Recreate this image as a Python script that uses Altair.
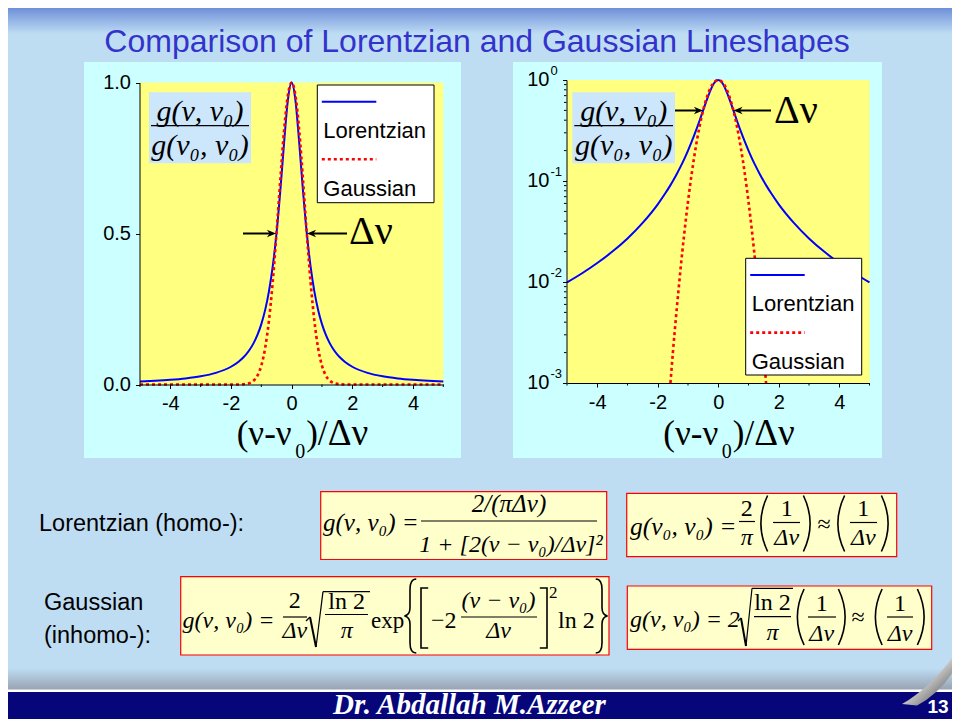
import altair as alt
import pandas as pd

# ---------------- data ----------------
x_vals = [-5, -4.5, -4, -3.5, -3, -2.5, -2, -1.75, -1.58, -1.5, -1.375, -1.25, -1.125, -1,
          -0.875, -0.75, -0.625, -0.5, -0.375, -0.25, -0.125, 0,
          0.125, 0.25, 0.375, 0.5, 0.625, 0.75, 0.875, 1, 1.125, 1.25, 1.375, 1.5, 1.58, 1.75,
          2, 2.5, 3, 3.5, 4, 4.5, 5]
lorentz_vals = [0.0099, 0.0122, 0.0154, 0.0200, 0.0270, 0.0385, 0.0588, 0.0755, 0.0910, 0.1000, 0.1168, 0.1379, 0.1649, 0.2000,
                0.2462, 0.3077, 0.3902, 0.5000, 0.6400, 0.8000, 0.9412, 1.0000,
                0.9412, 0.8000, 0.6400, 0.5000, 0.3902, 0.3077, 0.2462, 0.2000, 0.1649, 0.1379, 0.1168, 0.1000, 0.0910, 0.0755,
                0.0588, 0.0385, 0.0270, 0.0200, 0.0154, 0.0122, 0.0099]
gauss_vals = [0, 0, 0, 0, 0, 0, 0.00002, 0.0002, 0.0010, 0.0020, 0.0053, 0.0131, 0.0299, 0.0625,
              0.1197, 0.2102, 0.3384, 0.5000, 0.6771, 0.8409, 0.9576, 1.0000,
              0.9576, 0.8409, 0.6771, 0.5000, 0.3384, 0.2102, 0.1197, 0.0625, 0.0299, 0.0131, 0.0053, 0.0020, 0.0010, 0.0002,
              0.00002, 0, 0, 0, 0, 0, 0]

x_major = [-4, -2, 0, 2, 4]
x_minor = [-5, -3, -1, 1, 3, 5]
lin_y_ticks = [0, 0.5, 1]
log_major = [1, 0.1, 0.01, 0.001]
log_exps = ["0", "-1", "-2", "-3"]
log_minor = [0.002, 0.003, 0.004, 0.005, 0.006, 0.007, 0.008, 0.009,
             0.02, 0.03, 0.04, 0.05, 0.06, 0.07, 0.08, 0.09,
             0.2, 0.3, 0.4, 0.5, 0.6, 0.7, 0.8, 0.9]

title_text = "Comparison of Lorentzian and Gaussian Lineshapes"
series_names = ["Lorentzian", "Gaussian"]

# ---------------- layout ----------------
P = 8            # page margin: page coords -> chart coords
W, H = 944, 711
BG = "#BEDDF3"
SANS = "Liberation Sans"
SERIF = "Liberation Serif"

one = pd.DataFrame({"k": [0]})
df = pd.DataFrame({"x": x_vals, "lorentz": lorentz_vals, "gauss": gauss_vals})


def rect(x1, y1, x2, y2, fill, stroke=None, sw=1):
    kw = dict(fill=fill)
    if stroke:
        kw.update(stroke=stroke, strokeWidth=sw)
    return alt.Chart(one).mark_rect(**kw).encode(
        x=alt.value(x1 - P), x2=alt.value(x2 - P), y=alt.value(y1 - P), y2=alt.value(y2 - P))


def txt(s, x, y, size, font=SANS, style="normal", weight="normal", align="left",
        color="black", baseline="alphabetic"):
    return alt.Chart(one).mark_text(text=s, font=font, fontSize=size, fontStyle=style,
                                    fontWeight=weight, align=align, baseline=baseline,
                                    color=color).encode(x=alt.value(x - P), y=alt.value(y - P))


def seg(x1, y1, x2, y2, color="black", sw=1.0, dash=None):
    kw = dict(color=color, strokeWidth=sw)
    if dash:
        kw["strokeDash"] = dash
    return alt.Chart(one).mark_rule(**kw).encode(
        x=alt.value(x1 - P), y=alt.value(y1 - P), x2=alt.value(x2 - P), y2=alt.value(y2 - P))


def head(x, y, angle):
    return alt.Chart(one).mark_point(shape="M0,0L-1,-0.42L-0.7,0L-1,0.42Z", filled=True,
                                     color="black", opacity=1, size=330, angle=angle).encode(
        x=alt.value(x - P), y=alt.value(y - P))


SHAPES = {
    "(": "M0.2,-1 Q-0.28,0 0.2,1",
    ")": "M-0.2,-1 Q0.28,0 -0.2,1",
    "[": "M0.14,-1 L-0.1,-1 L-0.1,1 L0.14,1",
    "]": "M-0.14,-1 L0.1,-1 L0.1,1 L-0.14,1",
    "{": "M0.17,-1 Q0,-1 0,-0.72 L0,-0.22 Q0,-0.03 -0.15,0 Q0,0.03 0,0.22 L0,0.72 Q0,1 0.17,1",
    "}": "M-0.17,-1 Q0,-1 0,-0.72 L0,-0.22 Q0,-0.03 0.15,0 Q0,0.03 0,0.22 L0,0.72 Q0,1 -0.17,1",
}


def delim(ch, cx, cy, height, sw=1.6):
    return alt.Chart(one).mark_point(shape=SHAPES[ch], filled=False, color="black", opacity=1,
                                     strokeWidth=sw, size=height * height).encode(
        x=alt.value(cx - P), y=alt.value(cy - P))


def vgrad(c1, c2):
    return alt.LinearGradient(gradient="linear", x1=0, y1=0, x2=0, y2=1,
                              stops=[alt.GradientStop(color=c1, offset=0),
                                     alt.GradientStop(color=c2, offset=1)])


# ---------------- scales & axes ----------------
XL = alt.Scale(domain=[-5, 5], range=[140 - P, 443.3 - P], nice=False, zero=False)
YL = alt.Scale(domain=[0, 1], range=[384.5 - P, 82.5 - P], nice=False, zero=False)
XR = alt.Scale(domain=[-5, 5], range=[567 - P, 869.5 - P], nice=False, zero=False)
YR = alt.Scale(type="log", domain=[0.001, 1], range=[383 - P, 80 - P], nice=False)

ax_common = dict(grid=False, title=None, domainColor="black", tickColor="black",
                 labelColor="black", labelFont=SANS, labelFontSize=20, tickSize=4,
                 labelPadding=5, zindex=1, domainWidth=1, tickWidth=1, labelFlush=False)

xl_axis = alt.Axis(orient="bottom", offset=-(H - (384.5 - P)), values=x_major,
                   labelExpr="replace(datum.label, '\u2212', '-')", **ax_common)
yl_axis = alt.Axis(orient="left", offset=-(139.5 - P), values=lin_y_ticks, format=".1f", **ax_common)
xr_axis = alt.Axis(orient="bottom", offset=-(H - (383 - P)), values=x_major,
                   labelExpr="replace(datum.label, '\u2212', '-')", **ax_common)
yr_axis = alt.Axis(orient="left", offset=-(566.5 - P), values=log_major, labels=False, **ax_common)

# ---------------- left (linear) plot ----------------
lor_l = alt.Chart(df).mark_line(color="#0000FF", strokeWidth=2, interpolate="monotone").encode(
    x=alt.X("x:Q", scale=XL, axis=xl_axis), y=alt.Y("lorentz:Q", scale=YL, axis=yl_axis))
gau_l = alt.Chart(df).mark_line(color="#FF0000", strokeWidth=2.6, strokeDash=[3, 3],
                                interpolate="monotone").encode(
    x=alt.X("x:Q", scale=XL, axis=xl_axis), y=alt.Y("gauss:Q", scale=YL, axis=yl_axis))
minx_l = alt.Chart(pd.DataFrame({"v": x_minor})).mark_rule(color="black").encode(
    x=alt.X("v:Q", scale=XL, axis=xl_axis), y=alt.value(384.5 - P), y2=alt.value(387 - P))
left_plot = alt.layer(lor_l, gau_l, minx_l)

# ---------------- right (log) plot ----------------
lor_r = alt.Chart(df).mark_line(color="#0000FF", strokeWidth=2, interpolate="monotone").encode(
    x=alt.X("x:Q", scale=XR, axis=xr_axis), y=alt.Y("lorentz:Q", scale=YR, axis=yr_axis))
gau_r = alt.Chart(df).transform_filter("datum.gauss >= 0.001").mark_line(
    color="#FF0000", strokeWidth=2.6, strokeDash=[3, 3], interpolate="monotone").encode(
    x=alt.X("x:Q", scale=XR, axis=xr_axis), y=alt.Y("gauss:Q", scale=YR, axis=yr_axis))
minx_r = alt.Chart(pd.DataFrame({"v": x_minor})).mark_rule(color="black").encode(
    x=alt.X("v:Q", scale=XR, axis=xr_axis), y=alt.value(383 - P), y2=alt.value(385.5 - P))
miny_r = alt.Chart(pd.DataFrame({"v": log_minor})).mark_rule(color="black").encode(
    y=alt.Y("v:Q", scale=YR, axis=yr_axis), x=alt.value(566.5 - P), x2=alt.value(564 - P))
logdf = pd.DataFrame({"v": log_major, "e": log_exps})
lab10 = alt.Chart(logdf).mark_text(text="10", font=SANS, fontSize=20, align="right",
                                   baseline="middle", color="black").encode(
    y=alt.Y("v:Q", scale=YR, axis=yr_axis), x=alt.value(549.5 - P))
labexp = alt.Chart(logdf).mark_text(font=SANS, fontSize=13, align="left", baseline="middle",
                                    dy=-9, color="black").encode(
    y=alt.Y("v:Q", scale=YR, axis=yr_axis), x=alt.value(550.5 - P), text="e:N")
right_plot = alt.layer(lor_r, gau_r, minx_r, miny_r, lab10, labexp)

# ---------------- slide background ----------------
bg_layers = [
    rect(8, 8, 952, 34, vgrad("#6F8FDA", BG)),
    txt(title_text, 477, 52, 32, color="#3333CC", align="center"),
    rect(84, 62, 461, 458, "#CCFFFF"),
    rect(513, 62, 882, 458, "#CCFFFF"),
    rect(140, 82.5, 443.3, 384.5, "#FFFF80"),
    rect(567, 80, 869.5, 383, "#FFFF80"),
]

# ---------------- overlays on the plots ----------------
def ratio_box(x1, x2):
    cx = (x1 + x2) / 2
    return [rect(x1, 92.3, x2, 163.3, "#CCE6FB"),
            txt("g(ν, ν₀)", cx, 121, 30, font=SERIF, style="italic", align="center"),
            seg(x1 + 2, 125.7, x2 - 2, 125.7, sw=1.2),
            txt("g(ν₀, ν₀)", cx, 155, 30, font=SERIF, style="italic", align="center")]


def legend_box(x1, y1, x2, y2):
    return [rect(x1, y1, x2, y2, "white", "black", 1),
            seg(x1 + 4.5, y1 + 16.7, x1 + 59, y1 + 16.7, color="#0000FF", sw=2),
            txt(series_names[0], x1 + 6, y1 + 53, 22),
            seg(x1 + 4.5, y1 + 74.3, x1 + 59, y1 + 74.3, color="#FF0000", sw=2.6, dash=[3, 3]),
            txt(series_names[1], x1 + 6, y1 + 111, 22)]


def axis_title(x0):
    return [txt("(ν-ν", x0, 445, 35, font=SERIF),
            txt("0", x0 + 58.5, 458, 20, font=SERIF),
            txt(")/", x0 + 69.5, 445, 35, font=SERIF),
            txt("Δν", x0 + 91, 445, 37, font=SERIF)]


overlay = (ratio_box(149, 251) + ratio_box(572.3, 675)
           + legend_box(317.3, 85, 434, 202.7) + legend_box(745.7, 258.3, 861.7, 375)
           + [seg(243, 233.5, 270, 233.5, sw=2), head(276, 233.5, 0),
              seg(313, 233.5, 347, 233.5, sw=2), head(307, 233.5, 180),
              txt("Δν", 349, 244, 40, font=SERIF),
              seg(675, 110.5, 697, 110.5, sw=2), head(703, 110.5, 0),
              seg(739, 110.5, 771, 110.5, sw=2), head(733.5, 110.5, 180),
              txt("Δν", 774, 123, 40, font=SERIF)]
           + axis_title(236.7) + axis_title(663.3))

# ---------------- formulas ----------------
FS = 24
it = dict(font=SERIF, style="italic")
up = dict(font=SERIF)

formulas = [
    txt("Lorentzian (homo-):", 39, 531, 23.5),
    txt("Gaussian", 44, 610, 23.5),
    txt("(inhomo-):", 44, 643, 23.5),
    # Lorentzian lineshape
    rect(320.7, 491.7, 606.7, 559.5, "#FFFFCC", "#FF0000", 1.2),
    txt("g(ν, ν₀) =", 323, 531, 25, **it),
    txt("2/(πΔν)", 509, 512, 25, align="center", **it),
    seg(421, 521, 597, 521, sw=1.2),
    txt("1 + [2(ν − ν₀)/Δν]²", 511, 552, FS, align="center", **it),
    # Lorentzian peak
    rect(626.7, 493.3, 896.7, 556.7, "#FFFFCC", "#FF0000", 1.2),
    txt("g(ν₀, ν₀) =", 630, 535, 25.5, **it),
    txt("2", 746.7, 516, FS, align="center", **up),
    seg(739, 521.5, 755, 521.5, sw=1.2),
    txt("π", 746.7, 545, FS, align="center", **it),
    delim("(", 762, 523.5, 56),
    txt("1", 786.7, 516, FS, align="center", **up),
    seg(773, 522.5, 800, 522.5, sw=1.2),
    txt("Δν", 786.7, 545, FS, align="center", **it),
    delim(")", 809, 523.5, 56),
    txt("≈", 824, 532, FS, align="center", **up),
    delim("(", 839, 523.5, 56),
    txt("1", 863.3, 516, FS, align="center", **up),
    seg(850, 522.5, 877, 522.5, sw=1.2),
    txt("Δν", 863.3, 545, FS, align="center", **it),
    delim(")", 887, 523.5, 56),
    # Gaussian lineshape
    rect(180.7, 576.7, 609, 655, "#FFFFCC", "#FF0000", 1.2),
    txt("g(ν, ν₀) =", 182.6, 628, FS, **it),
    txt("2", 294.8, 608, FS, align="center", **up),
    seg(283, 617, 307, 617, sw=1.2),
    txt("Δν", 294.8, 638, FS, align="center", **it),
    seg(306, 621, 310, 617, sw=1.2),
    seg(310, 617, 316, 647, sw=2),
    seg(316, 647, 323, 591.7, sw=1.2),
    seg(323, 591.7, 370, 591.7, sw=1.2),
    txt("ln 2", 346.7, 609, FS, align="center", **up),
    seg(325, 614.5, 368, 614.5, sw=1.2),
    txt("π", 346.7, 638, FS, align="center", **it),
    txt("exp", 371, 628, 23, **up),
    delim("{", 410, 616, 74),
    delim("[", 424, 618, 60),
    txt("−2", 431, 628, FS, **up),
    txt("(ν − ν₀)", 498.5, 608, FS, align="center", **it),
    seg(461, 617, 537, 617, sw=1.2),
    txt("Δν", 498.5, 638, FS, align="center", **it),
    delim("]", 544, 618, 60),
    txt("2", 549, 598, 17, **up),
    txt("ln 2", 558, 628, FS, **up),
    delim("}", 602, 616, 74),
    # Gaussian peak
    rect(627.3, 586, 931.7, 649.3, "#FFFFCC", "#FF0000", 1.2),
    txt("g(ν, ν₀) = 2", 630, 627, FS, **it),
    seg(738, 621, 741, 618, sw=1.2),
    seg(741, 618, 746, 646, sw=2),
    seg(746, 646, 752, 588.3, sw=1.2),
    seg(752, 588.3, 793, 588.3, sw=1.2),
    txt("ln 2", 772.5, 610, FS, align="center", **up),
    seg(754, 616.7, 791, 616.7, sw=1.2),
    txt("π", 772.5, 640, FS, align="center", **it),
    delim("(", 798.5, 617, 56),
    txt("1", 821.7, 611, FS, align="center", **up),
    seg(808, 617, 836, 617, sw=1.2),
    txt("Δν", 821.7, 641, FS, align="center", **it),
    delim(")", 844, 617, 56),
    txt("≈", 858, 625, FS, align="center", **up),
    delim("(", 876.5, 617, 56),
    txt("1", 900, 611, FS, align="center", **up),
    seg(887, 617, 913, 617, sw=1.2),
    txt("Δν", 900, 641, FS, align="center", **it),
    delim(")", 923, 617, 56),
]

# ---------------- footer ----------------
curl_grad = alt.LinearGradient(gradient="linear", x1=0, y1=0, x2=1, y2=1,
                               stops=[alt.GradientStop(color="#FFFFFF", offset=0),
                                      alt.GradientStop(color="#D0D0D0", offset=0.45),
                                      alt.GradientStop(color="#2E2E2E", offset=1)])
footer = [
    rect(8, 668, 952, 690, vgrad(BG, "#97A2B1")),
    rect(8, 689.5, 952, 692, "white"),
    rect(8, 692, 952, 719, "#06067A"),
    alt.Chart(one).mark_point(shape="M-0.9,0.8Q0.05,0.25 0.85,-0.85L1,-0.6Q0.45,0.4 -0.4,0.85Z",
                              filled=True, fill=curl_grad, opacity=1, size=3600).encode(
        x=alt.value(929 - P), y=alt.value(680 - P)),
    txt("Dr. Abdallah M.Azzeer", 333, 714, 29, font=SERIF, style="italic", weight="bold", color="white"),
    txt("13", 938, 713, 19, weight="bold", color="white", align="center"),
]

chart = alt.layer(*(bg_layers + [left_plot, right_plot] + overlay + formulas + footer)).resolve_scale(
    x="independent", y="independent").resolve_axis(x="independent", y="independent").properties(
    width=W, height=H, padding=0, autosize=alt.AutoSizeParams(type="none")).configure(
    background=BG).configure_view(stroke=None)

chart.save("out.html", embed_options={"renderer": "svg", "actions": False})
